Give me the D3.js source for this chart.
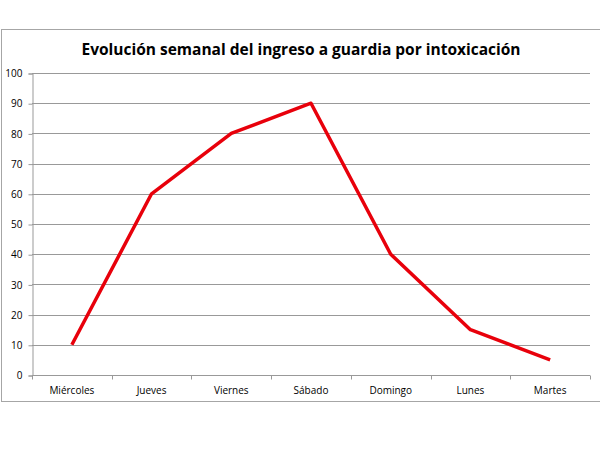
<!DOCTYPE html>
<html>
<head>
<meta charset="utf-8">
<script src="https://cdn.jsdelivr.net/npm/d3@7"></script>
<style>
  body { margin: 0; background: #fff; }
  svg { font-family: "Open Sans", "DejaVu Sans", sans-serif; }
</style>
</head>
<body>
<div id="chart"></div>
<script>
// Data
const days = ['Miércoles', 'Jueves', 'Viernes', 'Sábado', 'Domingo', 'Lunes', 'Martes'];
const ingresos = [10, 60, 80, 90, 40, 15, 5];
const yTicks = [0, 10, 20, 30, 40, 50, 60, 70, 80, 90, 100];
const title = 'Evolución semanal del ingreso a guardia por intoxicación';

const width = 600, height = 450;
const margin = { top: 73, right: 10, bottom: 75, left: 32 };

const svg = d3.select('#chart')
  .append('svg')
    .attr('width', width)
    .attr('height', height);

// Chart frame
svg.append('rect')
  .attr('x', 1.5).attr('y', 29.5)
  .attr('width', 610).attr('height', 372)
  .attr('fill', 'none')
  .attr('stroke', '#a6a6a6')
  .attr('stroke-width', 1);

// Title
svg.append('text')
  .attr('x', 301).attr('y', 55)
  .attr('text-anchor', 'middle')
  .attr('font-size', '15.5px')
  .attr('font-weight', 'bold')
  .attr('fill', '#000')
  .text(title);

// Scales
const x = d3.scaleBand()
  .domain(days)
  .range([margin.left, width - margin.right])
  .paddingInner(0).paddingOuter(0);

const y = d3.scaleLinear()
  .domain([0, 100])
  .range([height - margin.bottom, margin.top]);

// Gridlines
svg.append('g')
  .selectAll('line')
  .data(yTicks.filter(d => d > 0))
  .join('line')
    .attr('x1', margin.left).attr('x2', width - margin.right)
    .attr('y1', d => Math.round(y(d)) + 0.5).attr('y2', d => Math.round(y(d)) + 0.5)
    .attr('stroke', '#999')
    .attr('stroke-width', 1);

// Y axis
const yAxis = svg.append('g')
  .attr('transform', `translate(${margin.left + 0.5},0.5)`)
  .call(d3.axisLeft(y).tickValues(yTicks).tickSize(4).tickPadding(6));
yAxis.select('.domain').attr('stroke', '#999');
yAxis.selectAll('.tick line').attr('stroke', '#999');
yAxis.selectAll('text').attr('font-size', '10px').attr('fill', '#000')
  .attr('font-family', '"Open Sans", "DejaVu Sans", sans-serif');

// X axis (ticks at category boundaries)
const xAxisG = svg.append('g')
  .attr('transform', `translate(0,${Math.round(y(0)) + 0.5})`);
xAxisG.append('line')
  .attr('x1', margin.left).attr('x2', width - margin.right)
  .attr('stroke', '#999');
const bounds = days.map(d => x(d)).concat([x(days[days.length - 1]) + x.bandwidth()]);
xAxisG.selectAll('.xtick')
  .data(bounds)
  .join('line')
    .attr('class', 'xtick')
    .attr('x1', d => Math.round(d) + 0.5).attr('x2', d => Math.round(d) + 0.5)
    .attr('y1', 0).attr('y2', 4)
    .attr('stroke', '#999');
xAxisG.selectAll('.xlabel')
  .data(days)
  .join('text')
    .attr('class', 'xlabel')
    .attr('x', d => x(d) + x.bandwidth() / 2)
    .attr('y', 18)
    .attr('text-anchor', 'middle')
    .attr('font-size', '10px')
    .attr('fill', '#000')
    .text(d => d);

// Line
const line = d3.line()
  .x((d, i) => x(days[i]) + x.bandwidth() / 2)
  .y(d => y(d));

svg.append('path')
  .datum(ingresos)
  .attr('d', line)
  .attr('fill', 'none')
  .attr('stroke', '#e8000b')
  .attr('stroke-width', 3.5)
  .attr('stroke-linejoin', 'round');
</script>
</body>
</html>
